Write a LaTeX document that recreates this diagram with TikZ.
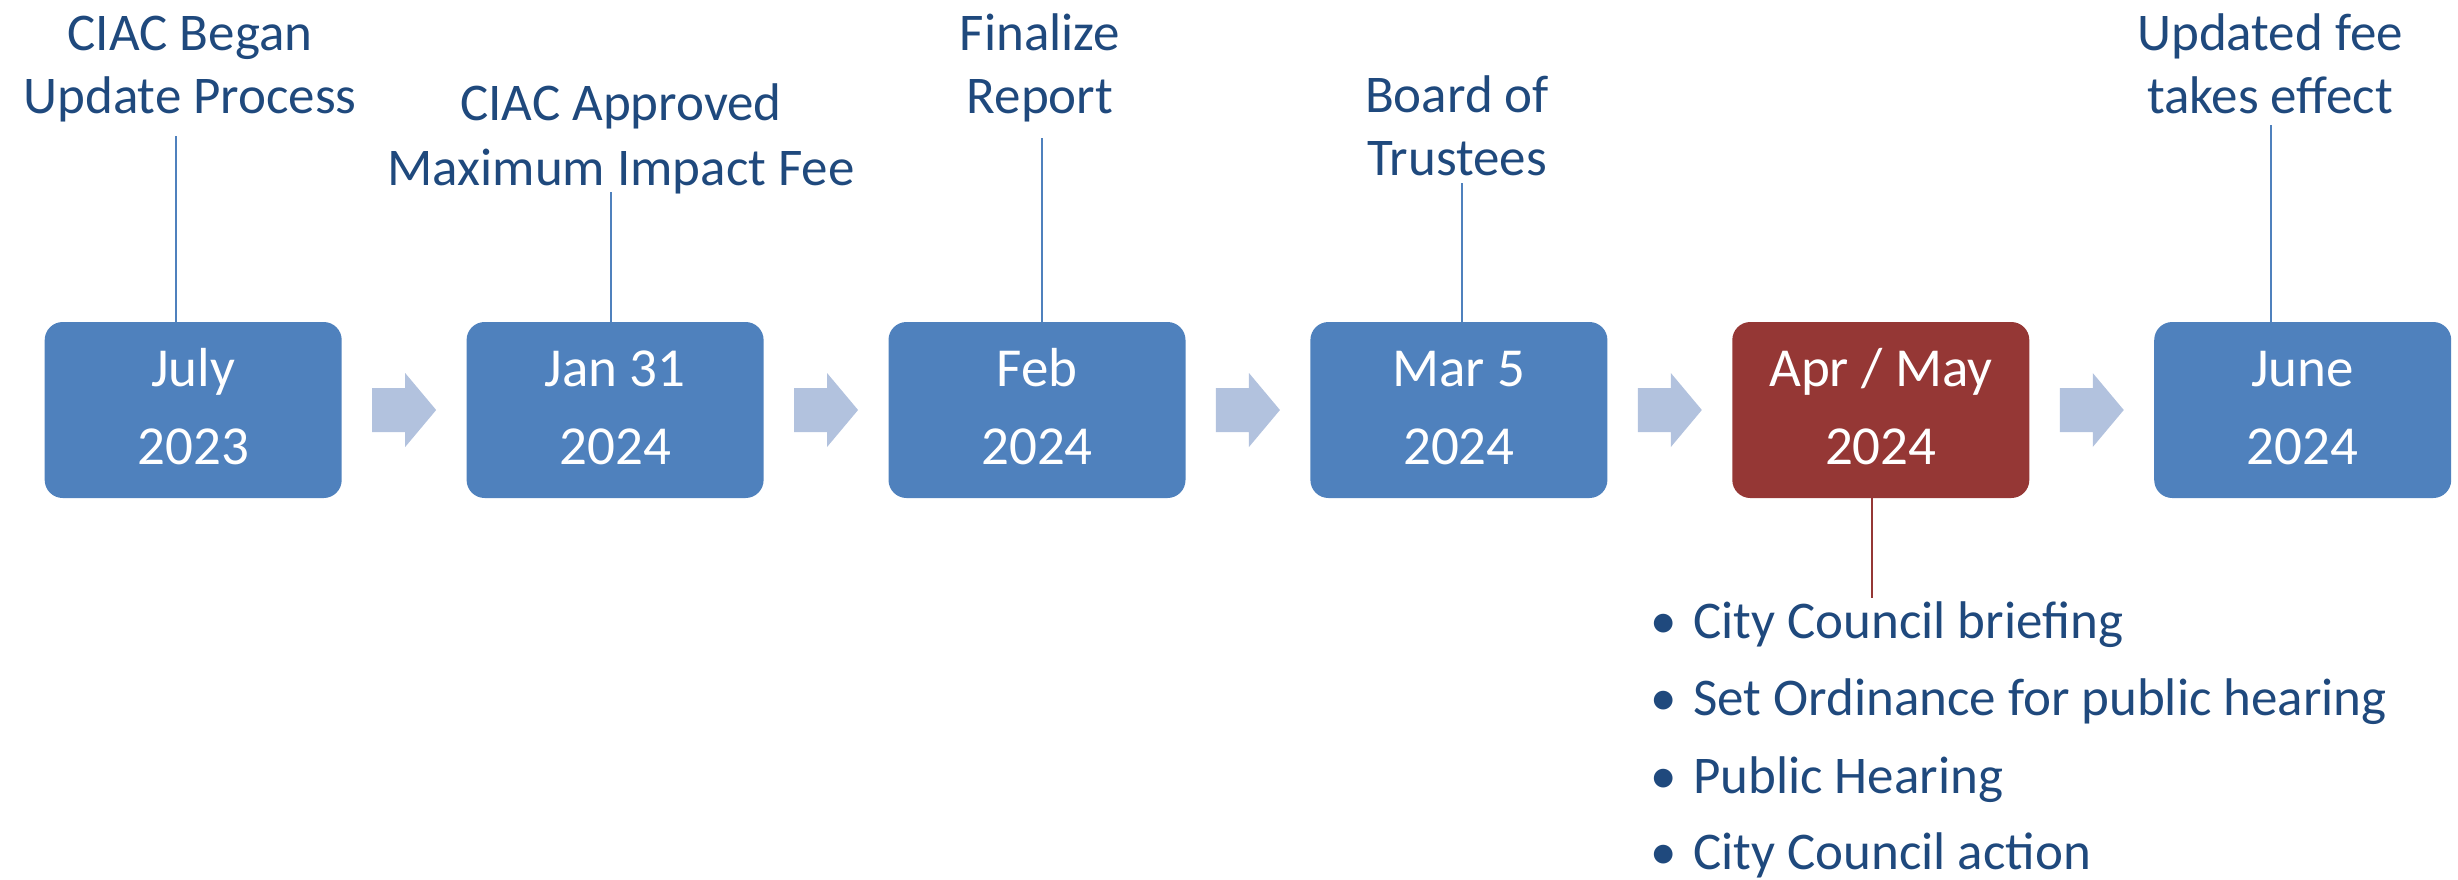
\documentclass[tikz,border=0pt]{standalone}
\usepackage{fontspec}
\setmainfont{Carlito}
\usetikzlibrary{calc}
\definecolor{boxblue}{HTML}{4F81BD}
\definecolor{boxred}{HTML}{953735}
\definecolor{arrowc}{HTML}{B2C2DE}
\definecolor{textc}{HTML}{1F497D}
\begin{document}
\begin{tikzpicture}[x=1pt,y=-1pt,
  box/.style={rounded corners=18pt, minimum width=297pt, minimum height=176pt, inner sep=0pt, draw=none},
  boxtxt/.style={anchor=base, inner sep=0pt, text=white, font=\fontsize{55}{66}\selectfont},
  lbl/.style={anchor=base, inner sep=0pt, text=textc, font=\fontsize{53}{64}\selectfont},
  bul/.style={anchor=base west, inner sep=0pt, text=textc, font=\fontsize{53}{64}\selectfont},
  dot/.style={anchor=base, inner sep=0pt, text=textc, font=\fontsize{53}{64}\selectfont},
  conn/.style={line width=2pt, draw=boxblue},
  connred/.style={line width=2pt, draw=boxred}]
\useasboundingbox (0,0) rectangle (2458,879);

% boxes
\foreach \i/\x/\a/\b/\c in {1/193.2/July/2023/boxblue, 2/615.1/Jan 31/2024/boxblue, 3/1037.0/Feb/2024/boxblue, 4/1458.9/Mar 5/2024/boxblue, 5/1880.8/{Apr / May}/2024/boxred, 6/2302.7/June/2024/boxblue}{
  \node[box, fill=\c] (b\i) at (\x,410) {};
  \node[boxtxt] (t\i a) at (\x,386) {\a};
  \node[boxtxt] (t\i b) at (\x,464) {\b};
}

% arrows between boxes
\foreach \i in {1,...,5}{
  \pgfmathtruncatemacro\j{\i+1}
  \coordinate (m\i) at ($(b\i.east)!0.5!(b\j.west)$);
  \fill[arrowc] (m\i) ++(-32,-22) -- ++(33,0) -- ++(0,-15) -- ++(31,37) -- ++(-31,37) -- ++(0,-15) -- ++(-33,0) -- cycle;
}

% labels above
\node[lbl] (l1a) at (190,50) {CIAC Began};
\node[lbl] (l1b) at (190,113) {Update Process};
\node[lbl] (l2a) at (621,120) {CIAC Approved};
\node[lbl] (l2b) at (621,185) {Maximum Impact Fee};
\node[lbl] (l3a) at (1040,50) {Finalize};
\node[lbl] (l3b) at (1040,113) {Report};
\node[lbl] (l4a) at (1457,112) {Board of};
\node[lbl] (l4b) at (1457,175) {Trustees};
\node[lbl] (l6a) at (2270,50) {Updated fee};
\node[lbl] (l6b) at (2270,113) {takes effect};

% connectors from labels
\coordinate (c1) at (175.7,136);
\coordinate (c2) at (611.4,192);
\coordinate (c3) at (1042,138);
\coordinate (c4) at (1462,183);
\coordinate (c6) at (2270.7,125);
\foreach \i in {1,2,3,4,6}{
  \draw[conn] (c\i) -- (b\i.north -| c\i);
}

% red connector to bullet list
\coordinate (c5) at (1872,598);
\draw[connred] (b5.south -| c5) -- (c5);

% bullet list
\foreach \k/\y/\t in {1/638/City Council briefing, 2/715/Set Ordinance for public hearing, 3/793/Public Hearing, 4/869/City Council action}{
  \node[dot] (d\k) at (1664,\y) {•};
  \node[bul] (e\k) at (1693,\y) {\t};
}
\end{tikzpicture}
\end{document}
